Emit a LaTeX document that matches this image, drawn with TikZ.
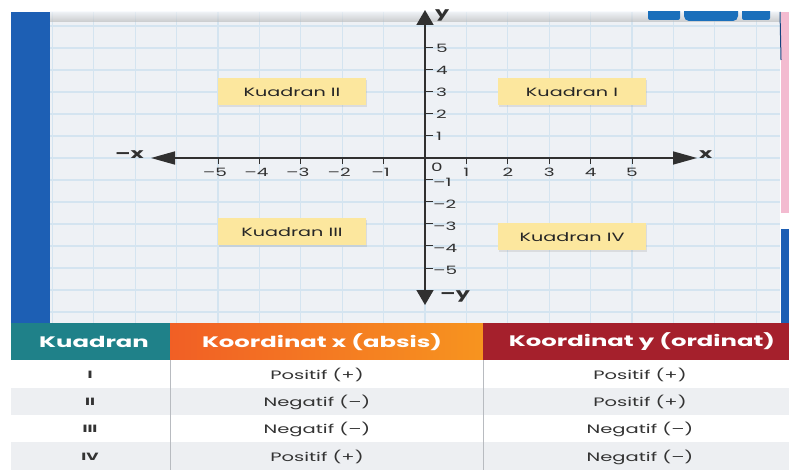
\documentclass[tikz,border=0pt]{standalone}
\usepackage{fontspec}
\setmainfont{Poppins}[FakeStretch=1.6]
\usetikzlibrary{arrows.meta,shadows}
\definecolor{paper}{HTML}{EEF1F5}
\definecolor{gridc}{HTML}{D4E4F0}
\definecolor{bluestrip}{HTML}{1D5FB4}
\definecolor{pinkc}{HTML}{F3BBD0}
\definecolor{yellowc}{HTML}{FCE79E}
\definecolor{axisc}{HTML}{303030}
\definecolor{tealc}{HTML}{1F8189}
\definecolor{orangeL}{HTML}{F15F25}
\definecolor{orangeR}{HTML}{F7941F}
\definecolor{redc}{HTML}{A5202C}
\definecolor{rowgray}{HTML}{EDEFF2}
\definecolor{sepc}{HTML}{B8BBC0}
\tikzset{
  quad/.style={fill=yellowc, minimum width=148pt, minimum height=27pt, inner sep=0pt,
    font=\fontsize{12}{14}\selectfont, text=black!85,
    drop shadow={opacity=0.18, shadow xshift=1.2pt, shadow yshift=-1.5pt}},
  tick/.style={draw=axisc, line width=1pt},
  numlab/.style={font=\fontsize{11.5}{12}\selectfont, text=axisc, inner sep=1pt},
  axlab/.style={font=\bfseries\fontsize{14}{16}\selectfont, text=axisc, inner sep=0pt},
  hdr/.style={font=\bfseries\fontsize{15.2}{18}\selectfont, text=white, inner sep=0pt},
  cell/.style={font=\fontsize{12.2}{14}\selectfont, text=black!80, inner sep=0pt},
  romcell/.style={font=\bfseries\fontsize{10.5}{12}\selectfont, text=black!80, inner sep=0pt},
}
\begin{document}
\begin{tikzpicture}[x=1pt,y=-1pt]
\useasboundingbox (0,0) rectangle (789,470);
\fill[white] (0,0) rectangle (789,470);
% left blue strip
\fill[bluestrip] (11,12) rectangle (50,470);
% paper
\fill[paper] (50,12) rectangle (780,323);
\begin{scope}
\clip (50,12) rectangle (780,323);
\foreach \k in {-9,...,8} \draw[gridc, line width=1.1pt] ({425+41.4*\k},12) -- ({425+41.4*\k},323);
\foreach \k in {-7,...,7} \draw[gridc, line width=1.1pt] (50,{158+22*\k}) -- (780,{158+22*\k});
\shade[bottom color=black!30, top color=paper, opacity=0.6] (50,12) rectangle (780,22);
% top-right blue shapes
\fill[bluestrip!90!cyan, rounded corners=2pt] (648,4) rectangle (680,20);
\fill[bluestrip!90!cyan, rounded corners=5pt] (684,4) rectangle (738,21);
\fill[bluestrip!90!cyan, rounded corners=2pt] (742,4) rectangle (770,20);
\end{scope}
% right edge
\fill[pinkc] (781,12) rectangle (789,213);
\fill[bluestrip] (781,229) rectangle (789,323);
\draw[bluestrip!70!black, line width=1pt] (780,12) -- (781,60);
% axes
\coordinate (xl) at (151,158);
\coordinate (xr) at (697,158);
\coordinate (yt) at (425,10);
\coordinate (yb) at (425,305);
\draw[axisc, line width=1.6pt, -{Triangle[length=24pt,width=13pt]}] (425,158) -- (xr);
\draw[axisc, line width=1.6pt, -{Triangle[length=24pt,width=13pt]}] (425,158) -- (xl);
\draw[axisc, line width=1.6pt, -{Triangle[length=15pt,width=17pt]}] (425,158) -- (yt);
\draw[axisc, line width=1.6pt, -{Triangle[length=15pt,width=17pt]}] (425,158) -- (yb);
\node[axlab, anchor=west] (lx) at (699,155) {x};
\node[axlab, anchor=east] (lmx) at (144,155) {–x};
\node[axlab, anchor=west] (ly) at (435,15) {y};
\node[axlab, anchor=west] (lmy) at (440,296) {–y};
% x ticks
\foreach \k in {-5,...,-1,1,2,...,5} {
  \draw[tick] ({425+41.4*\k},158) -- ({425+41.4*\k},164);
}
\foreach \k in {-5,...,-1} \node[numlab] (xt\k) at ({425+41.4*\k-3},172) {–\the\numexpr-\k\relax};
\foreach \k in {1,...,5} \node[numlab] (xt\k) at ({425+41.4*\k},172) {\k};
\node[numlab] (origin) at (437,167) {0};
% y ticks
\foreach \k in {-5,...,-1,1,2,...,5} {
  \draw[tick] (425,{158-22*\k}) -- (433,{158-22*\k});
}
\foreach \k in {1,...,5} \node[numlab, anchor=west] (yt\k) at (435,{158-22*\k}) {\k};
\foreach \k in {1,...,5} \node[numlab, anchor=west] (ytm\k) at (432,{158+22*\k+2}) {–\k};
% quadrant labels
\node[quad] (q2) at (292,92) {Kuadran II};
\node[quad] (q1) at (572,92) {Kuadran I};
\node[quad] (q3) at (292,232) {Kuadran III};
\node[quad] (q4) at (572,237) {Kuadran IV};
% table
\fill[tealc] (11,323) rectangle (170,360);
\shade[left color=orangeL, right color=orangeR] (170,323) rectangle (483,360);
\fill[redc] (483,323) rectangle (789,360);
\fill[white] (11,360) rectangle (789,388);
\fill[rowgray] (11,388) rectangle (789,415);
\fill[white] (11,415) rectangle (789,442);
\fill[rowgray] (11,442) rectangle (789,470);
\draw[sepc, line width=1pt] (170,360) -- (170,470);
\draw[sepc, line width=1pt] (483,360) -- (483,470);
\node[hdr] (h1) at (94,342) {Kuadran};
\node[hdr] (h2) at (322,342) {Koordinat x (absis)};
\node[hdr] (h3) at (642,342) {Koordinat y (ordinat)};
\node[romcell] (r1c1) at (90,375) {I};
\node[romcell] (r2c1) at (90,402) {II};
\node[romcell] (r3c1) at (90,429) {III};
\node[romcell] (r4c1) at (90,457) {IV};
\node[cell] (r1c2) at (317,375) {Positif (+)};
\node[cell] (r2c2) at (317,402) {Negatif (–)};
\node[cell] (r3c2) at (317,429) {Negatif (–)};
\node[cell] (r4c2) at (317,457) {Positif (+)};
\node[cell] (r1c3) at (640,375) {Positif (+)};
\node[cell] (r2c3) at (640,402) {Positif (+)};
\node[cell] (r3c3) at (640,429) {Negatif (–)};
\node[cell] (r4c3) at (640,457) {Negatif (–)};
\end{tikzpicture}
\end{document}
